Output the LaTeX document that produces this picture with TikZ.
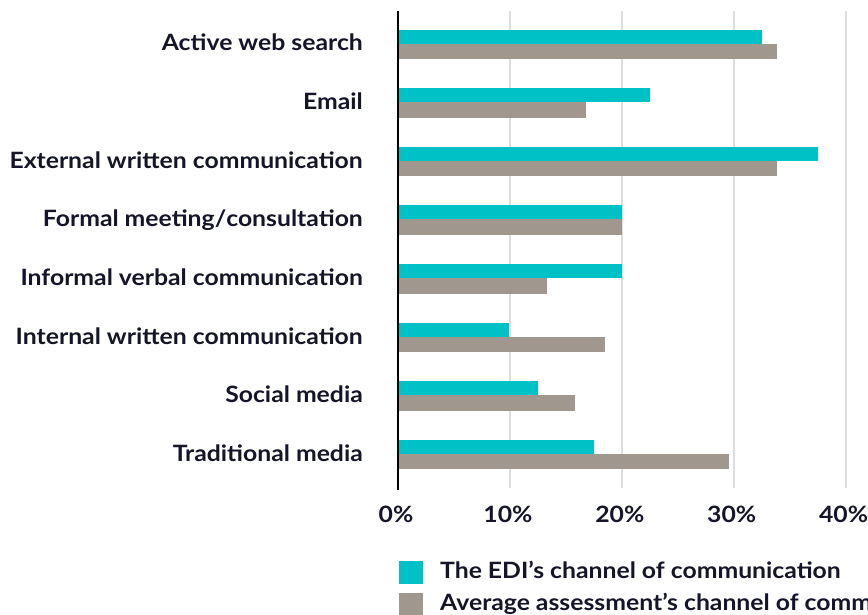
\documentclass[tikz,border=0pt]{standalone}
\usepackage{fontspec}
\setmainfont{Lato}[FakeStretch=1.1]
\definecolor{teal}{HTML}{00C1C5}
\definecolor{taupe}{HTML}{A0978F}
\definecolor{ink}{HTML}{15152A}
\definecolor{gridc}{HTML}{DCDCDC}
\tikzset{
  lbl/.style={anchor=base east, inner sep=0pt, text=ink, font=\fontsize{22.5bp}{26bp}\selectfont\bfseries},
  tick/.style={anchor=base, inner sep=0pt, text=ink, font=\fontsize{22.5bp}{26bp}\selectfont\bfseries},
  legtxt/.style={anchor=base west, inner sep=0pt, text=ink, font=\fontsize{22.5bp}{26bp}\selectfont\bfseries},
  gridline/.style={draw=gridc, line width=2bp},
  axisline/.style={draw=black, line width=2.6bp},
  barA/.style={fill=teal},
  barB/.style={fill=taupe}
}
\begin{document}
\begin{tikzpicture}[x=1bp,y=-1bp]
\useasboundingbox (0,0) rectangle (868,615);
\clip (0,0) rectangle (868,615);
\fill[white] (0,0) rectangle (868,615);
% grid
\foreach \k in {1,2,3,4}{
  \draw[gridline] ({398+111.9*\k},11) -- ({398+111.9*\k},488);
}
% bars and labels
\foreach \i/\a/\b/\t in {
  0/32.5/33.9/Active web search,
  1/22.5/16.8/Email,
  2/37.5/33.9/External written communication,
  3/20/20/Formal meeting\slash consultation,
  4/20/13.3/Informal verbal communication,
  5/9.9/18.5/Internal written communication,
  6/12.5/15.8/Social media,
  7/17.5/29.6/Traditional media}{
  \pgfmathsetmacro{\yb}{43.6+58.6*\i}
  \fill[barA] (398,\yb-14) rectangle ({398+11.19*\a},\yb);
  \fill[barB] (398,\yb) rectangle ({398+11.19*\b},\yb+15.5);
  \node[lbl] (cat\i) at (363,\yb+7.4) {\t};
}
% axis
\draw[axisline] (398,11) -- (398,490);
% tick labels
\foreach \k/\s in {0/0\%,1/10\%,2/20\%,3/30\%,4/40\%}{
  \node[tick] (tk\k) at ({396+111.9*\k},522) {\s};
}
% legend
\fill[barA] (399,561) rectangle (423,584);
\node[legtxt] (legA) at (440,578) {The EDI’s channel of communication};
\fill[barB] (399,593) rectangle (423,616);
\node[legtxt] (legB) at (440,610.5) {Average assessment’s channel of communication};
\end{tikzpicture}
\end{document}
